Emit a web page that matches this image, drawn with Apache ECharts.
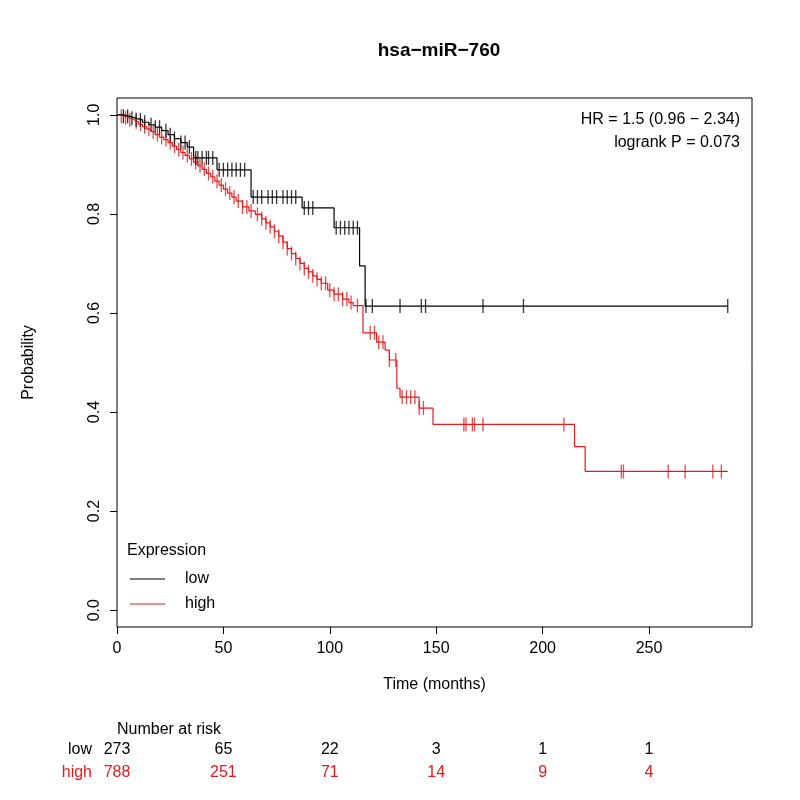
<!DOCTYPE html>
<html>
<head>
<meta charset="utf-8">
<script src="https://cdn.jsdelivr.net/npm/echarts@6/dist/echarts.min.js"></script>
<style>html,body{margin:0;padding:0;background:#fff}#main{width:800px;height:800px}</style>
</head>
<body>
<div id="main"></div>
<script>
// KM step points [time, survival after time]
var lowSteps = [[0,1.0],[3,0.997],[6,0.993],[9,0.99],[12,0.985],[15,0.98],[18,0.975],[21,0.968],[24,0.96],[27,0.952],[30,0.944],[33,0.935],[36,0.913],[47,0.889],[63,0.834],[87,0.812],[102,0.772],[114,0.695],[116.6,0.614],[287,0.614]];
var highSteps = [[0,1.0],[2,0.997],[4,0.994],[6,0.99],[8,0.986],[10,0.981],[12,0.976],[14,0.971],[16,0.966],[18,0.96],[20,0.955],[22,0.95],[24,0.944],[26,0.937],[28,0.93],[30,0.924],[32,0.918],[34,0.911],[36,0.904],[38,0.897],[40,0.89],[42,0.882],[44,0.875],[46,0.866],[48,0.858],[50,0.85],[52,0.842],[54,0.834],[56,0.826],[59,0.814],[62,0.806],[65,0.799],[68,0.79],[70,0.782],[72,0.774],[74,0.765],[76,0.755],[78,0.743],[80,0.73],[82,0.72],[84,0.71],[86,0.7],[88,0.69],[90,0.683],[92,0.675],[94,0.668],[96,0.66],[99,0.646],[102,0.638],[106,0.628],[109,0.621],[111,0.615],[115.6,0.56],[122,0.541],[126,0.525],[128,0.505],[131.5,0.448],[133,0.43],[142,0.408],[148.5,0.375],[215,0.33],[220,0.28],[287,0.28]];
// censoring times
var lowCens = [3,5,7,9,11,13,16,18,20,23,25,27,30,32,34,37,38,40,42,43,45,48,50,52,54,56,58,60,64,66,68,71,73,75,78,80,82,84,88,90,92,103,105,107,109,111,113,117,120,133,143,145,172,191,287];
var highCens = [2,4,6,9,11,13,15,17,19,21,23,25,27,29,31,33,35,37,39,41,43,45,47,49,51,53,55,57,59,61,63,66,68,70,72,74,76,78,80,82,84,86,88,90,92,94,96,98,100,102,104,106,108,110,113,119,121,123,125,128,131,134,136,138,140,142,144,163,164,167,168,172,210,237,238,259,267,280,284];
var riskTimes = [0,50,100,150,200,250];
var riskLow = [273,65,22,3,1,1];
var riskHigh = [788,251,71,14,9,4];
var xTicks = [0,50,100,150,200,250];
var yTicks = [0,0.2,0.4,0.6,0.8,1.0];

function survAt(steps, t) {
    var s = steps[0][1];
    for (var i = 0; i < steps.length; i++) { if (steps[i][0] <= t) s = steps[i][1]; }
    return s;
}
function cens(steps, times) { return times.map(function (t) { return [t, survAt(steps, t)]; }); }

var chart = echarts.init(document.getElementById('main'), null, { renderer: 'canvas' });
var F = 'Liberation Sans, Arial, sans-serif';

var graphics = [
    { type: 'text', left: 117, top: 722, style: { text: 'Number at risk', font: '16px ' + F, fill: '#000' } },
    { type: 'text', x: 92, y: 750, style: { text: 'low', font: '16px ' + F, fill: '#000', align: 'right', verticalAlign: 'middle' } },
    { type: 'text', x: 92, y: 773, style: { text: 'high', font: '16px ' + F, fill: '#e41a1c', align: 'right', verticalAlign: 'middle' } },
    { type: 'text', x: 740, y: 120, style: { text: 'HR = 1.5 (0.96 \u2212 2.34)', font: '16px ' + F, fill: '#000', align: 'right', verticalAlign: 'middle' } },
    { type: 'text', x: 740, y: 143, style: { text: 'logrank P = 0.073', font: '16px ' + F, fill: '#000', align: 'right', verticalAlign: 'middle' } },
    { type: 'text', x: 127, y: 551, style: { text: 'Expression', font: '16px ' + F, fill: '#000', verticalAlign: 'middle' } },
    { type: 'line', shape: { x1: 130, y1: 579, x2: 165, y2: 579 }, style: { stroke: '#000', lineWidth: 1 } },
    { type: 'line', shape: { x1: 130, y1: 604, x2: 165, y2: 604 }, style: { stroke: '#e41a1c', lineWidth: 1 } },
    { type: 'text', x: 185, y: 579, style: { text: 'low', font: '16px ' + F, fill: '#000', verticalAlign: 'middle' } },
    { type: 'text', x: 185, y: 604, style: { text: 'high', font: '16px ' + F, fill: '#000', verticalAlign: 'middle' } }
];
riskTimes.forEach(function (t, i) {
    var px = 117 + t * 2.128;
    graphics.push({ type: 'text', x: px, y: 750, style: { text: String(riskLow[i]), font: '16px ' + F, fill: '#000', align: 'center', verticalAlign: 'middle' } });
    graphics.push({ type: 'text', x: px, y: 773, style: { text: String(riskHigh[i]), font: '16px ' + F, fill: '#e41a1c', align: 'center', verticalAlign: 'middle' } });
});

var option = {
    animation: false,
    backgroundColor: '#fff',
    title: { text: 'hsa\u2212miR\u2212760', left: 434, top: 36, textAlign: 'center',
        textStyle: { fontFamily: F, fontSize: 19, fontWeight: 'bold', color: '#000' } },
    grid: { left: 117, right: 48, top: 98, bottom: 173, show: true, borderColor: '#000', borderWidth: 1, backgroundColor: 'transparent' },
    xAxis: {
        type: 'value', min: 0, max: 298.4,
        name: 'Time (months)', nameLocation: 'middle', nameGap: 50,
        nameTextStyle: { fontFamily: F, fontSize: 16, color: '#000' },
        axisLine: { show: false, onZero: false },
        axisTick: { show: true, inside: false, length: 7, lineStyle: { color: '#000' }, customValues: xTicks },
        axisLabel: { fontFamily: F, fontSize: 16, color: '#000', margin: 14, customValues: xTicks },
        splitLine: { show: false }
    },
    yAxis: {
        type: 'value', min: -0.034, max: 1.034,
        name: 'Probability', nameLocation: 'middle', nameGap: 80,
        nameTextStyle: { fontFamily: F, fontSize: 16, color: '#000' },
        axisLine: { show: false, onZero: false },
        axisTick: { show: true, inside: false, length: 7, lineStyle: { color: '#000' }, customValues: yTicks },
        axisLabel: { fontFamily: F, fontSize: 16, color: '#000', rotate: 90, margin: 14, customValues: yTicks,
            formatter: function (v) { return v.toFixed(1); } },
        splitLine: { show: false }
    },
    graphic: graphics,
    series: [
        { type: 'line', step: 'end', data: highSteps, symbol: 'none', lineStyle: { color: '#e41a1c', width: 1.2 } },
        { type: 'scatter', data: cens(highSteps, highCens), symbol: 'rect', symbolSize: [1.3, 14], itemStyle: { color: '#e41a1c' } },
        { type: 'line', step: 'end', data: lowSteps, symbol: 'none', lineStyle: { color: '#000', width: 1.2 } },
        { type: 'scatter', data: cens(lowSteps, lowCens), symbol: 'rect', symbolSize: [1.3, 14], itemStyle: { color: '#000' } }
    ]
};
chart.setOption(option);
</script>
</body>
</html>
